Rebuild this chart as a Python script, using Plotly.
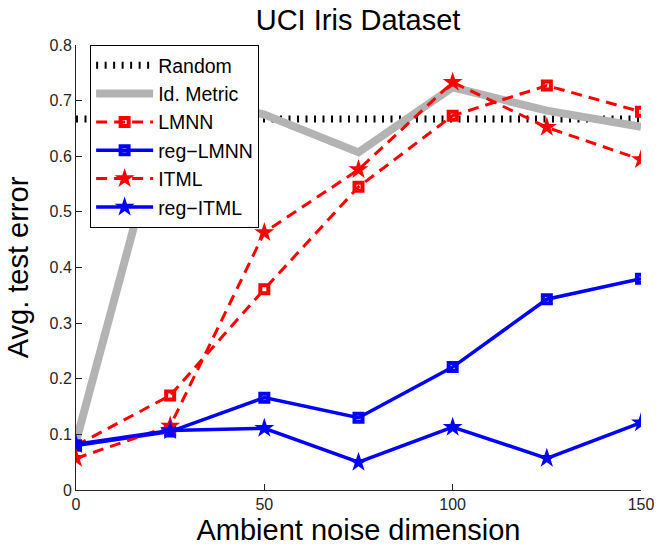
import plotly.graph_objects as go

dims = [0, 25, 50, 75, 100, 125, 150]
random_err = [0.667] * 7
id_metric = [0.087, 0.715, 0.675, 0.607, 0.724, 0.682, 0.653]
lmnn = [0.080, 0.170, 0.361, 0.545, 0.673, 0.727, 0.680]
reg_lmnn = [0.080, 0.105, 0.166, 0.130, 0.221, 0.343, 0.380]
itml = [0.057, 0.115, 0.463, 0.576, 0.733, 0.652, 0.594]
reg_itml = [0.082, 0.107, 0.111, 0.050, 0.113, 0.057, 0.121]

x_ticks = [0, 50, 100, 150]
y_ticks = [0, 0.1, 0.2, 0.3, 0.4, 0.5, 0.6, 0.7, 0.8]

RED = "#ff0000"
BLUE = "#0000ff"
GRAY = "#b3b3b3"

fig = go.Figure()
fig.add_trace(go.Scatter(x=dims, y=random_err, mode="lines", name="Random",
                         line=dict(color="black", width=7, dash="2px,6.5px")))
fig.add_trace(go.Scatter(x=dims, y=id_metric, mode="lines", name="Id. Metric",
                         line=dict(color=GRAY, width=8)))
fig.add_trace(go.Scatter(x=dims, y=lmnn, mode="lines+markers", name="LMNN",
                         line=dict(color=RED, width=3, dash="11px,7px"),
                         marker=dict(symbol="square-open", size=8, color=RED,
                                     line=dict(width=4, color=RED))))
fig.add_trace(go.Scatter(x=dims, y=reg_lmnn, mode="lines+markers", name="reg−LMNN",
                         line=dict(color=BLUE, width=3.5),
                         marker=dict(symbol="square-open", size=8, color=BLUE,
                                     line=dict(width=4, color=BLUE))))
fig.add_trace(go.Scatter(x=dims, y=itml, mode="lines+markers", name="ITML",
                         line=dict(color=RED, width=3, dash="11px,7px"),
                         marker=dict(symbol="star", size=15, color=RED,
                                     line=dict(width=0))))
fig.add_trace(go.Scatter(x=dims, y=reg_itml, mode="lines+markers", name="reg−ITML",
                         line=dict(color=BLUE, width=3.5),
                         marker=dict(symbol="star", size=15, color=BLUE,
                                     line=dict(width=0))))

axis_common = dict(showline=True, linecolor="#262626", linewidth=1,
                   ticks="inside", ticklen=6, tickcolor="#262626",
                   showgrid=False, zeroline=False, mirror=False, automargin=False,
                   tickfont=dict(family="Liberation Sans, Arial", size=16, color="#262626"))

fig.update_layout(
    width=657, height=546,
    margin=dict(l=76, r=16, t=45, b=56),
    paper_bgcolor="white", plot_bgcolor="white",
    font=dict(family="Liberation Sans, Arial", color="black"),
    title=dict(text="UCI Iris Dataset", x=0.545, xanchor="center",
               y=1 - 20 / 546, yanchor="middle", yref="container",
               font=dict(size=29, color="black")),
    xaxis=dict(range=[0, 150], tickvals=x_ticks, **axis_common,
               title=dict(text="Ambient noise dimension", standoff=9,
                          font=dict(size=29, color="black"))),
    yaxis=dict(range=[0, 0.8], tickvals=y_ticks, ticktext=[f"{v:g}" for v in y_ticks],
               **axis_common,
               title=dict(text="Avg. test error", standoff=12,
                          font=dict(size=29, color="black"))),
    legend=dict(x=0.025, y=1, xanchor="left", yanchor="top",
                bgcolor="white", bordercolor="black", borderwidth=1,
                font=dict(size=19.5, color="black"), itemwidth=57),
)

fig.write_html("out.html")
